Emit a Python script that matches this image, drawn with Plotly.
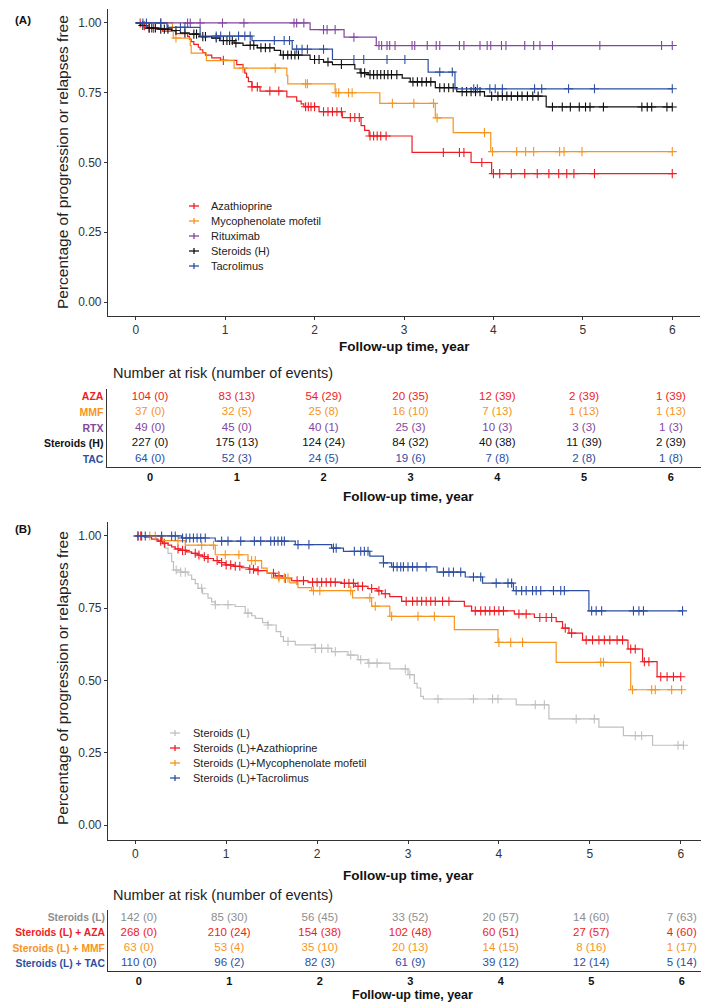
import plotly.graph_objects as go

W, H = 709, 1002
def fx(p): return p / W
def fy(p): return 1 - p / H

FONT = "Arial, Liberation Sans, sans-serif"
TIMES = [0, 1, 2, 3, 4, 5, 6]

# ---------------- Panel A data ----------------
A_NAMES = ["Azathioprine", "Mycophenolate mofetil", "Rituximab", "Steroids (H)", "Tacrolimus"]
A_COLORS = ["#EE1D23", "#F7941D", "#8346A0", "#111111", "#2D4EA2"]

AZA_t = [0.07, 0.13, 0.30, 0.45, 0.58, 0.60, 0.62, 0.65, 0.70, 0.72, 0.75, 0.78, 0.85, 0.95,
         1.13, 1.20, 1.22, 1.24, 1.26, 1.30, 1.39, 1.69, 1.80, 1.85, 1.88, 2.05, 2.31, 2.52,
         2.56, 2.61, 3.09, 3.75, 3.98]
AZA_s = [0.990, 0.981, 0.971, 0.962, 0.952, 0.942, 0.933, 0.923, 0.913, 0.904, 0.894, 0.885, 0.875, 0.866,
         0.851, 0.836, 0.820, 0.805, 0.790, 0.771, 0.756, 0.735, 0.720, 0.710, 0.700, 0.682, 0.661, 0.632,
         0.615, 0.595, 0.536, 0.500, 0.460]
AZA_c = [0.05, 0.10, 0.15, 0.20, 0.98, 1.30, 1.36, 1.50, 1.60, 1.90, 1.93, 1.96, 2.00, 2.10, 2.15, 2.20,
         2.25, 2.30, 2.40, 2.45, 2.50, 2.62, 2.66, 2.70, 2.74, 2.80, 3.44, 3.62, 3.67, 3.87, 4.00, 4.07,
         4.20, 4.35, 4.49, 4.62, 4.73, 4.82, 4.90, 5.13, 6.00]

MMF_t = [0.41, 0.42, 0.61, 0.62, 0.79, 1.10, 1.69, 1.70, 2.23, 2.73, 3.35, 3.55, 3.97]
MMF_s = [0.973, 0.946, 0.919, 0.892, 0.865, 0.838, 0.811, 0.782, 0.750, 0.712, 0.660, 0.607, 0.539]
MMF_c = [0.45, 1.20, 1.56, 1.90, 1.92, 2.24, 2.27, 2.38, 2.42, 2.87, 3.11, 3.33, 3.37, 3.90, 3.99,
         4.26, 4.36, 4.45, 4.74, 4.79, 4.99, 6.00]

RTX_t = [1.95, 2.33, 2.69]
RTX_s = [0.976, 0.949, 0.919]
RTX_c = [0.28, 0.58, 0.61, 0.72, 0.97, 1.21, 1.77, 1.80, 1.88, 2.10, 2.14, 2.23, 2.44, 2.72, 2.75,
         2.81, 2.84, 2.90, 3.09, 3.12, 3.26, 3.36, 3.40, 3.62, 3.67, 3.85, 3.93, 3.97, 4.09, 4.14,
         4.35, 4.45, 4.52, 4.66, 5.19, 5.88, 6.00]

STH_t = [0.05, 0.12, 0.25, 0.40, 0.50, 0.60, 0.71, 0.85, 0.94, 1.10, 1.20, 1.36, 1.55, 1.62, 1.95,
         2.10, 2.20, 2.45, 2.51, 2.60, 2.98, 3.07, 3.35, 3.59, 3.90, 4.59]
STH_s = [0.991, 0.982, 0.978, 0.973, 0.964, 0.960, 0.951, 0.946, 0.937, 0.928, 0.920, 0.911, 0.902,
         0.885, 0.869, 0.860, 0.851, 0.835, 0.821, 0.815, 0.802, 0.789, 0.768, 0.754, 0.738, 0.699]
STH_c = [0.08, 0.15, 0.18, 0.22, 0.28, 0.32, 0.36, 0.45, 0.55, 0.65, 0.68, 0.75, 0.78, 0.90, 0.98,
         1.02, 1.05, 1.08, 1.12, 1.28, 1.32, 1.40, 1.45, 1.50, 1.65, 1.70, 1.74, 1.78, 1.82, 2.00,
         2.05, 2.15, 2.30, 2.52, 2.56, 2.62, 2.66, 2.70, 2.74, 2.78, 2.82, 2.86, 2.92, 3.10, 3.15,
         3.20, 3.25, 3.30, 3.40, 3.45, 3.50, 3.55, 3.65, 3.70, 3.75, 3.80, 3.85, 3.98, 4.05, 4.10,
         4.15, 4.20, 4.27, 4.32, 4.38, 4.44, 4.50, 4.66, 4.77, 4.86, 4.96, 5.03, 5.08, 5.23, 5.66,
         5.72, 5.77, 5.94, 6.00]

TAC_t = [0.35, 0.72, 1.30, 1.75, 2.20, 3.27, 3.57]
TAC_s = [0.984, 0.953, 0.937, 0.906, 0.869, 0.824, 0.764]
TAC_c = [0.08, 0.12, 0.28, 0.50, 0.55, 0.90, 0.95, 1.05, 1.15, 1.22, 1.28, 1.55, 1.66, 1.72, 1.80,
         1.86, 1.92, 2.10, 2.44, 2.55, 2.81, 3.01, 3.40, 3.54, 3.78, 3.82, 3.96, 4.02, 4.10, 4.46,
         4.54, 4.84, 5.13, 6.00]

A_SERIES = [(AZA_t, AZA_s, AZA_c), (MMF_t, MMF_s, MMF_c), (RTX_t, RTX_s, RTX_c),
            (STH_t, STH_s, STH_c), (TAC_t, TAC_s, TAC_c)]

# Risk table A
A_ROWS = ["AZA", "MMF", "RTX", "Steroids (H)", "TAC"]
A_ROW_COLORS = ["#EE1D23", "#F7941D", "#8346A0", "#111111", "#2D4EA2"]
AZA_risk = [104, 83, 54, 20, 12, 2, 1]
AZA_ev = [0, 13, 29, 35, 39, 39, 39]
MMF_risk = [37, 32, 25, 16, 7, 1, 1]
MMF_ev = [0, 5, 8, 10, 13, 13, 13]
RTX_risk = [49, 45, 40, 25, 10, 3, 1]
RTX_ev = [0, 0, 1, 3, 3, 3, 3]
STH_risk = [227, 175, 124, 84, 40, 11, 2]
STH_ev = [0, 13, 24, 32, 38, 39, 39]
TAC_risk = [64, 52, 24, 19, 7, 2, 1]
TAC_ev = [0, 3, 5, 6, 8, 8, 8]
A_TABLE = [(AZA_risk, AZA_ev), (MMF_risk, MMF_ev), (RTX_risk, RTX_ev), (STH_risk, STH_ev), (TAC_risk, TAC_ev)]

# ---------------- Panel B data ----------------
B_NAMES = ["Steroids (L)", "Steroids (L)+Azathioprine", "Steroids (L)+Mycophenolate mofetil", "Steroids (L)+Tacrolimus"]
B_COLORS = ["#C0C0C0", "#EE1D23", "#F7941D", "#2D4EA2"]

STL_t = [0.23, 0.30, 0.33, 0.36, 0.40, 0.42, 0.50, 0.58, 0.62, 0.66, 0.69, 0.74, 0.80, 0.84, 0.88,
         1.10, 1.21, 1.28, 1.32, 1.40, 1.46, 1.55, 1.60, 1.63, 1.76, 1.98, 2.16, 2.34, 2.45, 2.56,
         2.80, 3.00, 3.07, 3.10, 3.14, 3.17, 4.19, 4.55, 5.10, 5.37, 5.69]
STL_s = [0.986, 0.972, 0.958, 0.940, 0.911, 0.882, 0.875, 0.865, 0.850, 0.835, 0.819, 0.800, 0.785,
         0.772, 0.762, 0.756, 0.733, 0.724, 0.715, 0.700, 0.692, 0.669, 0.652, 0.635, 0.623, 0.611,
         0.600, 0.588, 0.572, 0.560, 0.540, 0.520, 0.490, 0.474, 0.445, 0.436, 0.416, 0.367, 0.339,
         0.309, 0.276]
STL_c = [0.45, 0.50, 0.55, 0.73, 0.88, 1.02, 1.24, 1.46, 1.68, 1.98, 2.05, 2.12, 2.20, 2.37, 2.48,
         2.57, 2.66, 2.97, 3.02, 3.33, 3.72, 3.93, 3.99, 4.40, 4.50, 4.85, 5.05, 5.50, 5.57, 5.97, 6.03]

SLA_t = [0.10, 0.18, 0.25, 0.30, 0.36, 0.40, 0.44, 0.50, 0.56, 0.62, 0.68, 0.74, 0.80, 0.86, 0.92,
         0.99, 1.08, 1.17, 1.25, 1.35, 1.45, 1.54, 1.62, 1.72, 1.90, 2.27, 2.42, 2.56, 2.66, 2.71,
         2.80, 2.93, 3.62, 3.70, 4.17, 4.39, 4.63, 4.70, 4.77, 4.92, 5.42, 5.58, 5.74]
SLA_s = [0.996, 0.989, 0.982, 0.975, 0.968, 0.962, 0.955, 0.950, 0.945, 0.940, 0.934, 0.928, 0.922,
         0.915, 0.908, 0.900, 0.895, 0.890, 0.885, 0.880, 0.871, 0.862, 0.853, 0.845, 0.840, 0.836,
         0.826, 0.818, 0.810, 0.800, 0.790, 0.774, 0.757, 0.741, 0.730, 0.718, 0.704, 0.681, 0.664,
         0.640, 0.609, 0.565, 0.513]
SLA_c = [0.03, 0.06, 0.28, 0.32, 0.47, 0.52, 0.55, 0.66, 0.70, 0.76, 0.80, 0.90, 0.95, 1.00, 1.05,
         1.10, 1.15, 1.26, 1.30, 1.35, 1.52, 1.58, 1.65, 1.78, 1.85, 1.95, 2.00, 2.05, 2.10, 2.15,
         2.20, 2.30, 2.35, 2.40, 2.45, 2.50, 2.60, 2.68, 2.75, 2.98, 3.05, 3.10, 3.15, 3.20, 3.25,
         3.30, 3.38, 3.45, 3.74, 3.80, 3.85, 3.90, 3.95, 4.00, 4.05, 4.22, 4.30, 4.45, 4.52, 4.58,
         4.73, 4.80, 4.96, 5.03, 5.10, 5.16, 5.22, 5.30, 5.36, 5.45, 5.50, 5.60, 5.65, 5.78, 5.85,
         5.92, 6.00]

SLM_t = [0.30, 0.55, 0.88, 1.24, 1.39, 1.45, 1.50, 1.70, 1.79, 1.94, 2.39, 2.60, 2.80, 3.51, 3.99, 4.63, 5.45]
SLM_s = [0.984, 0.968, 0.935, 0.915, 0.889, 0.872, 0.855, 0.838, 0.821, 0.811, 0.786, 0.757, 0.722,
         0.676, 0.632, 0.563, 0.468]
SLM_c = [0.16, 0.22, 0.47, 0.73, 0.86, 0.99, 1.14, 1.28, 1.32, 1.58, 1.64, 1.68, 1.96, 2.03, 2.37,
         2.58, 2.64, 2.82, 3.11, 3.29, 4.00, 4.13, 4.26, 5.12, 5.15, 5.47, 5.68, 5.72, 5.90, 6.01]

SLT_t = [0.51, 0.88, 1.76, 2.16, 2.29, 2.58, 2.73, 2.82, 3.32, 3.63, 3.82, 4.16, 4.99]
SLT_s = [0.993, 0.982, 0.970, 0.958, 0.947, 0.930, 0.907, 0.893, 0.875, 0.858, 0.837, 0.811, 0.741]
SLT_c = [0.03, 0.07, 0.11, 0.29, 0.40, 0.44, 0.52, 0.56, 0.60, 0.64, 0.68, 0.72, 0.77, 0.95, 1.02,
         1.16, 1.31, 1.38, 1.49, 1.53, 1.57, 1.61, 1.64, 1.79, 1.91, 2.18, 2.21, 2.41, 2.48, 2.52,
         2.56, 2.73, 2.84, 2.88, 2.92, 2.95, 3.00, 3.05, 3.10, 3.20, 3.39, 3.45, 3.50, 3.58, 3.72,
         3.80, 3.97, 4.10, 4.14, 4.19, 4.25, 4.30, 4.37, 4.41, 4.46, 4.60, 4.68, 4.72, 5.02, 5.07,
         5.13, 5.48, 5.54, 5.59, 6.02]

B_SERIES = [(STL_t, STL_s, STL_c), (SLA_t, SLA_s, SLA_c), (SLM_t, SLM_s, SLM_c), (SLT_t, SLT_s, SLT_c)]

B_ROWS = ["Steroids (L)", "Steroids (L) + AZA", "Steroids (L) + MMF", "Steroids (L) + TAC"]
B_ROW_COLORS = ["#8E8E8E", "#EE1D23", "#F7941D", "#2D4EA2"]
STL_risk = [142, 85, 56, 33, 20, 14, 7]
STL_ev = [0, 30, 45, 52, 57, 60, 63]
SLA_risk = [268, 210, 154, 102, 60, 27, 4]
SLA_ev = [0, 24, 38, 48, 51, 57, 60]
SLM_risk = [63, 53, 35, 20, 14, 8, 1]
SLM_ev = [0, 4, 10, 13, 15, 16, 17]
SLT_risk = [110, 96, 82, 61, 39, 12, 5]
SLT_ev = [0, 2, 3, 9, 12, 14, 14]
B_TABLE = [(STL_risk, STL_ev), (SLA_risk, SLA_ev), (SLM_risk, SLM_ev), (SLT_risk, SLT_ev)]

Y_TICKS = [0, 0.25, 0.5, 0.75, 1.0]

# ---------------- Build figure ----------------
fig = go.Figure()


def surv_at(t, ev_t, ev_s):
    s = 1.0
    for a, b in zip(ev_t, ev_s):
        if a <= t:
            s = b
    return s


def add_km(series, colors, xa, ya):
    for (et, es, ec), col in zip(series, colors):
        tmax = max(ec + et)
        xs = [0] + et + [tmax]
        ys = [1.0] + es + [es[-1]]
        fig.add_trace(go.Scatter(x=xs, y=ys, mode="lines", line=dict(color=col, width=1.2, shape="hv"),
                                 xaxis=xa, yaxis=ya, showlegend=False, hoverinfo="skip"))
        fig.add_trace(go.Scatter(x=ec, y=[surv_at(c, et, es) for c in ec], mode="markers",
                                 marker=dict(symbol="cross-thin", size=6.5, line=dict(color=col, width=1.1)),
                                 xaxis=xa, yaxis=ya, showlegend=False, hoverinfo="skip"))


add_km(A_SERIES, A_COLORS, "x", "y")
add_km(B_SERIES, B_COLORS, "x3", "y3")


def add_table(table, colors, xa, ya):
    n = len(table)
    for i, ((risk, ev), col) in enumerate(zip(table, colors)):
        fig.add_trace(go.Scatter(x=TIMES, y=[n - 1 - i] * len(TIMES), mode="text",
                                 text=[f"{r} ({e})" for r, e in zip(risk, ev)],
                                 textfont=dict(family=FONT, size=11.5, color=col),
                                 xaxis=xa, yaxis=ya, showlegend=False, hoverinfo="skip"))


add_table(A_TABLE, A_ROW_COLORS, "x2", "y2")
add_table(B_TABLE, B_ROW_COLORS, "x4", "y4")

AX = "#333333"
panel_x = dict(showline=True, linecolor=AX, linewidth=1.1, ticks="outside", ticklen=3, tickcolor=AX,
               tickvals=TIMES, showgrid=False, zeroline=False,
               tickfont=dict(family=FONT, size=12, color=AX))
panel_y = dict(showline=True, linecolor=AX, linewidth=1.1, ticks="outside", ticklen=3, tickcolor=AX,
               tickvals=Y_TICKS, ticktext=[f"{v:.2f}" for v in Y_TICKS], showgrid=False, zeroline=False,
               range=[-0.05, 1.05], tickfont=dict(family=FONT, size=12, color=AX))
table_x = dict(showline=True, linecolor=AX, linewidth=1.1, ticks="", tickvals=TIMES,
               ticktext=[f"<b>{t}</b>" for t in TIMES], showgrid=False, zeroline=False,
               tickfont=dict(family=FONT, size=11, color="#111111"))
table_y = dict(showline=True, linecolor=AX, linewidth=1.1, ticks="", showgrid=False, zeroline=False)

fig.update_layout(
    width=W, height=H, margin=dict(l=0, r=0, t=0, b=0),
    paper_bgcolor="white", plot_bgcolor="white", showlegend=False,
    font=dict(family=FONT, color="#111111"),
    xaxis=dict(panel_x, domain=[fx(100), fx(692)], range=[-0.31, 6.31], anchor="y"),
    yaxis=dict(panel_y, domain=[fy(308), fy(1)], anchor="x"),
    xaxis2=dict(table_x, domain=[fx(98.6), fx(702)], range=[-0.5, 6.45], anchor="y2"),
    yaxis2=dict(table_y, domain=[fy(459), fy(381)], range=[-0.5, 4.5], anchor="x2",
                tickvals=list(range(len(A_ROWS) - 1, -1, -1)),
                ticktext=[f"<b><span style='color:{c}'>{r}</span></b>" for r, c in zip(A_ROWS, A_ROW_COLORS)],
                tickfont=dict(family=FONT, size=10.5)),
    xaxis3=dict(panel_x, domain=[fx(100), fx(700)], range=[-0.3, 6.3], anchor="y3"),
    yaxis3=dict(panel_y, domain=[fy(831.5), fy(513.5)], anchor="x3"),
    xaxis4=dict(table_x, domain=[fx(100), fx(709)], range=[-0.34, 6.39], anchor="y4"),
    yaxis4=dict(table_y, domain=[fy(963), fy(902)], range=[-0.5, 3.5], anchor="x4",
                tickvals=list(range(len(B_ROWS) - 1, -1, -1)),
                ticktext=[f"<b><span style='color:{c}'>{r}</span></b>" for r, c in zip(B_ROWS, B_ROW_COLORS)],
                tickfont=dict(family=FONT, size=10.3)),
)

ann = []
shapes = []


def text(x, y, s, size, bold=False, xanchor="center", angle=0, color="#111111"):
    ann.append(dict(x=fx(x), y=fy(y), xref="paper", yref="paper", text=f"<b>{s}</b>" if bold else s,
                    showarrow=False, xanchor=xanchor, yanchor="middle", textangle=angle,
                    font=dict(family=FONT, size=size, color=color)))


text(15, 12, "(A)", 11.5, bold=True)
text(15, 521, "(B)", 11.5, bold=True)
YTITLE = "Percentage of progression or relapses free"
XTITLE = "Follow-up time, year"
RISK_TITLE = "Number at risk (number of events)"
text(54, 154, YTITLE, 15.5, angle=-90, color="#222222")
text(54, 670, YTITLE, 15.5, angle=-90, color="#222222")
text(396, 339, XTITLE, 13.5, bold=True)
text(400, 488, XTITLE, 13.5, bold=True)
text(400, 867, XTITLE, 13.5, bold=True)
text(404, 987, XTITLE, 12.5, bold=True)
text(103, 365, RISK_TITLE, 14.5, xanchor="left", color="#222222")
text(103, 887, RISK_TITLE, 14.5, xanchor="left", color="#222222")


def legend(names, colors, x0, y0, step, kx):
    for i, (n, c) in enumerate(zip(names, colors)):
        yy = y0 + step * i
        text(x0, yy, n, 11, xanchor="left", color="#222222")
        shapes.append(dict(type="line", xref="paper", yref="paper", x0=fx(kx - 5), x1=fx(kx + 5),
                           y0=fy(yy), y1=fy(yy), line=dict(color=c, width=1.3)))
        shapes.append(dict(type="line", xref="paper", yref="paper", x0=fx(kx), x1=fx(kx),
                           y0=fy(yy - 3), y1=fy(yy + 3), line=dict(color=c, width=1.3)))


legend(A_NAMES, A_COLORS, 201, 198, 15, 186)
legend(B_NAMES, B_COLORS, 183, 725, 15, 167)

fig.update_layout(annotations=ann, shapes=shapes)
fig.write_html("out.html")
